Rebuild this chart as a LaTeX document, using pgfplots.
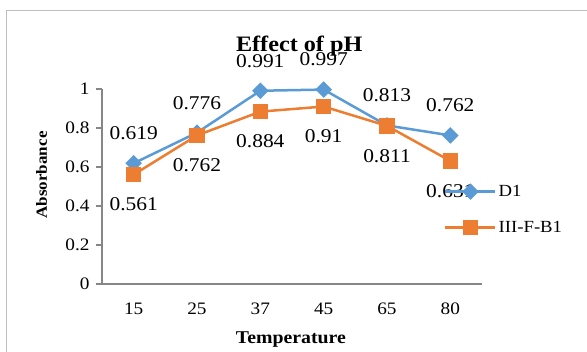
\documentclass[border=0pt]{standalone}
\usepackage{fontspec}
\setmainfont[FakeStretch=1.1]{Liberation Serif}
\usepackage{pgfplots}
\pgfplotsset{compat=1.18}
\definecolor{serD}{RGB}{91,155,213}
\definecolor{serF}{RGB}{237,125,49}
\definecolor{axisgray}{RGB}{134,134,134}
\definecolor{framegray}{RGB}{191,191,191}

\begin{document}
\begin{tikzpicture}
\useasboundingbox (-102pt,-68pt) rectangle (485pt,284pt);
% chart frame (top and left edges)
\draw[framegray, line width=1.5pt] (-95.5pt,-68pt) -- (-95.5pt,273.5pt) -- (485pt,273.5pt);
\begin{axis}[
  scale only axis, width=380pt, height=195pt,
  clip=false,
  xmin=-0.5, xmax=5.5, ymin=0, ymax=1,
  axis x line=bottom, axis y line=left,
  axis line style={axisgray, line width=1.2pt, -},
  xtick={0,1,2,3,4,5}, xticklabels={15,25,37,45,65,80},
  ytick={0,0.2,0.4,0.6,0.8,1}, yticklabels={0,0.2,0.4,0.6,0.8,1},
  major x tick style={draw=none},
  major y tick style={axisgray, line width=1.2pt},
  tick align=outside, major tick length=6pt,
  xticklabel style={font=\fontsize{17.5}{20}\selectfont, anchor=center, yshift=-19pt},
  yticklabel style={font=\fontsize{17.5}{20}\selectfont, anchor=east, xshift=-3pt},
  title={Effect of pH},
  title style={at={(axis description cs:0.519,1.19)}, anchor=center,
    font=\fontsize{22}{26}\selectfont\bfseries},
  xlabel={Temperature},
  xlabel style={at={(axis description cs:0.497,-0.287)}, anchor=center,
    font=\fontsize{18}{21}\selectfont\bfseries},
  ylabel={Absorbance},
  ylabel style={at={(axis description cs:-0.159,0.559)}, anchor=center,
    font=\fontsize{15.5}{18}\selectfont\bfseries},
  legend style={at={(rel axis cs:0.9,0.382)}, anchor=west, draw=none, fill=none,
    inner sep=0pt, row sep=19pt, font=\fontsize{17}{20}\selectfont,
    cells={anchor=west}},
  legend image code/.code={%
    \draw[mark repeat=2,mark phase=2] plot coordinates {(0pt,0pt) (25pt,0pt) (50pt,0pt)};},
  nodes near coords,
  point meta=explicit symbolic,
]
\addplot[serD, line width=2.5pt, mark=square*, mark size=4.6pt,
  mark options={rotate=45, solid},
  every node near coord/.style={anchor=center, yshift=30pt, text=black,
    font=\fontsize{19.5}{22}\selectfont}]
  coordinates {
    (0,0.619) [0.619]
    (1,0.776) [0.776]
    (2,0.991) [0.991]
    (3,0.997) [0.997]
    (4,0.813) [0.813]
    (5,0.762) [0.762]
  };
\addlegendentry{D1}
\addplot[serF, line width=2.5pt, mark=square*, mark size=6.5pt,
  mark options={solid},
  every node near coord/.style={anchor=center, yshift=-30pt, text=black,
    font=\fontsize{19.5}{22}\selectfont}]
  coordinates {
    (0,0.561) [0.561]
    (1,0.762) [0.762]
    (2,0.884) [0.884]
    (3,0.91) [0.91]
    (4,0.811) [0.811]
    (5,0.631) [0.631]
  };
\addlegendentry{III-F-B1}
\end{axis}
\end{tikzpicture}
\end{document}
